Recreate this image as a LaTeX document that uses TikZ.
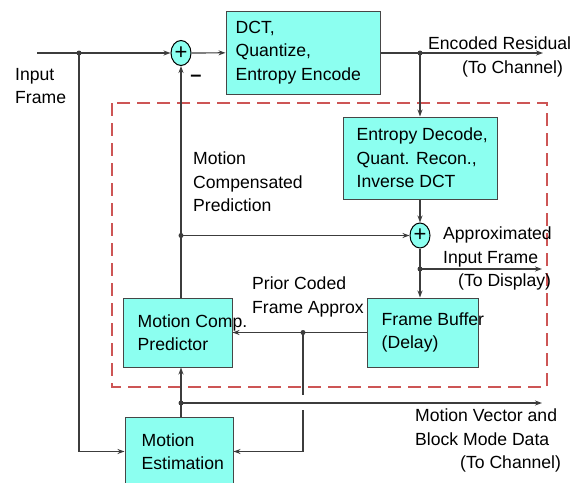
\documentclass[tikz,border=0pt]{standalone}
\usepackage{fontspec}
\setmainfont{Liberation Sans}
\usetikzlibrary{arrows.meta,positioning,shapes.geometric}

\definecolor{boxfill}{RGB}{140,255,240}
\definecolor{boxline}{RGB}{70,70,70}
\definecolor{wirecol}{RGB}{60,60,60}
\definecolor{loopred}{RGB}{205,85,85}

\tikzset{
  blk/.style={draw=boxline, fill=boxfill, line width=1pt, inner sep=0pt},
  sumnode/.style={ellipse, draw=black, fill=boxfill, line width=1pt, minimum width=20pt,
    minimum height=25pt, inner sep=0pt, font=\fontsize{22}{22}\selectfont},
  lbl/.style={font=\fontsize{17.6}{23.5}\selectfont, align=left, inner sep=0pt},
  wire/.style={draw=wirecol, line width=1.2pt},
  >={Stealth[length=7pt,width=5pt]}
}

\begin{document}
\begin{tikzpicture}[x=1pt,y=-1pt]
\useasboundingbox (0,0) rectangle (580,482);
\clip (0,0) rectangle (580,482);

% decoder loop
\draw[loopred, line width=2pt, dash pattern=on 13pt off 7pt] (112,103) rectangle (547,387);

% blocks
\node[blk, minimum width=154pt, minimum height=83pt] (dct) at (303,52.5) {};
\node[blk, minimum width=154pt, minimum height=82pt] (ed) at (420,158) {};
\node[blk, minimum width=109pt, minimum height=69pt] (mcp) at (177.5,332.5) {};
\node[blk, minimum width=111pt, minimum height=69pt] (fb) at (422.5,332.5) {};
\node[blk, minimum width=108pt, minimum height=69pt] (me) at (179,451.5) {};
\node[sumnode] (sum1) at (181,53) {+};
\node[sumnode] (sum2) at (420,235.5) {+};

\node[lbl, right=10pt of dct.west] (dcttxt) {DCT,\\Quantize,\\Entropy Encode};
\node[lbl, right=14pt of ed.west] (edtxt) {Entropy Decode,\\Quant. Recon.,\\Inverse DCT};
\node[lbl, right=15pt of mcp.west] (mcptxt) {Motion Comp.\\Predictor};
\node[lbl, right=15pt of fb.west] (fbtxt) {Frame Buffer\\(Delay)};
\node[lbl, right=17pt of me.west] (metxt) {Motion\\Estimation};
\node[font=\fontsize{20}{20}\selectfont\bfseries] (minus) at (196,78) {–};

% junctions
\coordinate (in) at (37,53);
\coordinate (jin) at (79,53);
\coordinate (jres) at (420,53);
\coordinate (resout) at (543,53);
\coordinate (jpred) at (sum1 |- sum2);
\coordinate (japp) at (420,269);
\coordinate (appout) at (542,269);
\coordinate (jprior) at (303,332.5);
\coordinate (gaptop) at (303,395);
\coordinate (gapbot) at (303,410);
\coordinate (jmv) at (181,403);
\coordinate (mvout) at (542,403);

% connectors
\draw[wire,->] (in) -- (sum1);
\draw[wire,->] (sum1) -- (dct);
\draw[wire,->] (dct.east |- resout) -- (resout);
\draw[wire,->] (jres) -- (ed);
\draw[wire,->] (ed) -- (sum2);
\draw[wire,->] (jpred) -- (sum2);
\draw[wire,->] (mcp.north -| sum1) -- (sum1);
\draw[wire,->] (sum2) -- (sum2 |- fb.north);
\draw[wire,->] (japp) -- (appout);
\draw[wire,->] (fb) -- (mcp);
\draw[wire] (jprior) -- (gaptop);
\draw[wire,->] (gapbot) |- (me);
\draw[wire,->] (jin) |- (me);
\draw[wire,->] (me.north -| sum1) -- (mcp.south -| sum1);
\draw[wire,->] (jmv) -- (mvout);
\foreach \j in {jin,jres,jpred,japp,jprior,jmv}
  \fill[wirecol] (\j) circle (2.5pt);

% labels
\node[lbl, anchor=north west] (inlbl) at (15,68) {Input\\Frame};
\node[lbl, anchor=north west] (reslbl) at (428,37) {Encoded Residual\\\hspace*{34pt}(To Channel)};
\node[lbl, anchor=north west] (predlbl) at (193,152) {Motion\\Compensated\\Prediction};
\node[lbl, anchor=north west] (applbl) at (443,227) {Approximated\\Input Frame\\\hspace*{15pt}(To Display)};
\node[lbl, anchor=north west] (priorlbl) at (252,277) {Prior Coded\\Frame Approx};
\node[lbl, anchor=north west] (mvlbl) at (415,409) {Motion Vector and\\Block Mode Data\\\hspace*{45pt}(To Channel)};
\end{tikzpicture}
\end{document}
